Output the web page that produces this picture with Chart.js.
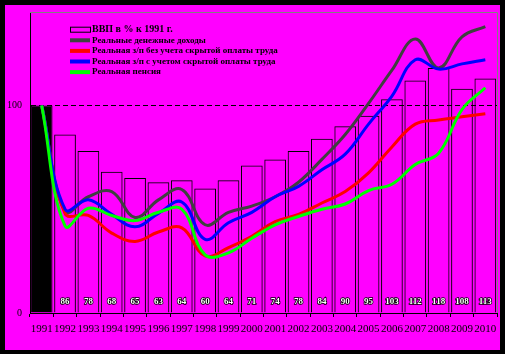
<!DOCTYPE html>
<html>
<head>
<meta charset="utf-8">
<script src="https://cdn.jsdelivr.net/npm/chart.js@4.4.0/dist/chart.umd.min.js"></script>
<style>
  html, body { margin: 0; padding: 0; background: #000; }
  #moldura { position: absolute; left: 5px; top: 5px; width: 495px; height: 345px; background: #ff00ff; }
  canvas { display: block; }
</style>
</head>
<body>
<div id="moldura"><canvas id="grafico" width="495" height="345"></canvas></div>
<script>
/* ---------- Dados ---------- */
const anos = ['1991','1992','1993','1994','1995','1996','1997','1998','1999','2000',
              '2001','2002','2003','2004','2005','2006','2007','2008','2009','2010'];
const vvp = [100, 86, 78, 68, 65, 63, 64, 60, 64, 71, 74, 78, 84, 90, 95, 103, 112, 118, 108, 113];
const dohody = [100, 49, 56, 58.5, 46, 54.5, 59.5, 42.5, 48.5, 51.5, 56, 63, 74, 86, 101, 117, 132, 118, 133, 138];
const zpBez = [100, 48, 47, 38.5, 34.5, 39, 41, 27.5, 31.5, 37, 44, 47.5, 53, 58.5, 67.5, 80, 91, 93, 94.5, 96];
const zpS = [100, 50, 54.5, 47.5, 41.5, 48, 53.5, 35.5, 43.5, 48.5, 56, 61, 69, 76.5, 91, 104.5, 122, 117.5, 120, 122];
const pensiya = [100, 42, 50.5, 47, 44.5, 48.5, 50, 28, 29, 36, 42.5, 46.5, 50, 52.5, 59, 62, 71.5, 77, 98, 108.5];
const yTicks = [0, 100];

const nomes = [
  'ВВП в % к 1991 г.',
  'Реальные денежные доходы',
  'Реальная з/п без учета скрытой оплаты труда',
  'Реальная з/п с учетом скрытой оплаты труда',
  'Реальная пенсия'
];
const cores = ['#000000', '#404040', '#ff0000', '#0000ff', '#00ff00'];
const fonte = '"Liberation Serif", "Times New Roman", serif';

/* ---------- Plugins ---------- */
// rótulos dos valores do ВВП no pé das barras
const rotulosBarras = {
  id: 'rotulosBarras',
  afterDatasetsDraw(chart) {
    const ctx = chart.ctx;
    const meta = chart.getDatasetMeta(0);
    const y = chart.scales.y.getPixelForValue(5.3);
    ctx.save();
    ctx.font = 'bold 9px ' + fonte;
    ctx.textAlign = 'center';
    ctx.textBaseline = 'middle';
    meta.data.forEach((bar, i) => {
      if (i === 0) return;
      ctx.lineWidth = 1.5;
      ctx.strokeStyle = '#000';
      ctx.strokeText(String(vvp[i]), bar.x, y);
      ctx.fillStyle = '#fff';
      ctx.fillText(String(vvp[i]), bar.x, y);
    });
    ctx.restore();
  }
};

// moldura cinza (topo e direita) + legenda
const molduraLegenda = {
  id: 'molduraLegenda',
  afterDraw(chart) {
    const ctx = chart.ctx;
    const a = chart.chartArea;
    ctx.save();
    ctx.strokeStyle = '#808080';
    ctx.lineWidth = 1;
    ctx.beginPath();
    ctx.moveTo(a.left, a.top + 0.5);
    ctx.lineTo(a.right + 0.5, a.top + 0.5);
    ctx.lineTo(a.right + 0.5, a.bottom);
    ctx.stroke();

    const x0 = a.left + 40;
    let y = a.top + 17.7;
    nomes.forEach((nome, i) => {
      if (i === 0) {
        ctx.strokeStyle = '#000';
        ctx.lineWidth = 1;
        ctx.strokeRect(x0 + 0.5, y - 2.5, 20, 5);
        ctx.font = 'bold 10px ' + fonte;
      } else {
        ctx.strokeStyle = cores[i];
        ctx.lineWidth = 4;
        ctx.beginPath();
        ctx.moveTo(x0, y);
        ctx.lineTo(x0 + 20, y);
        ctx.stroke();
        ctx.font = 'bold 9px ' + fonte;
      }
      ctx.fillStyle = '#000';
      ctx.textBaseline = 'middle';
      ctx.textAlign = 'left';
      ctx.fillText(nome, x0 + 22, y);
      y += 10.6;
    });
    ctx.restore();
  }
};

/* ---------- Gráfico ---------- */
function linha(label, data, cor, ordem) {
  return {
    type: 'line', label, data, borderColor: cor, backgroundColor: cor,
    borderWidth: 3, pointRadius: 0, tension: 0.4, fill: false, order: ordem
  };
}

const ctx = document.getElementById('grafico').getContext('2d');
new Chart(ctx, {
  type: 'bar',
  data: {
    labels: anos,
    datasets: [
      {
        label: nomes[0], data: vvp, order: 5,
        backgroundColor: vvp.map((_, i) => i === 0 ? '#000' : 'transparent'),
        borderColor: '#000', borderWidth: 1,
        barPercentage: 0.93, categoryPercentage: 1
      },
      linha(nomes[1], dohody, cores[1], 4),
      linha(nomes[2], zpBez, cores[2], 3),
      linha(nomes[3], zpS, cores[3], 2),
      linha(nomes[4], pensiya, cores[4], 1)
    ]
  },
  options: {
    responsive: false,
    animation: false,
    devicePixelRatio: 1,
    layout: { padding: { top: 7, right: 3, left: 0, bottom: 0 } },
    plugins: { legend: { display: false }, tooltip: { enabled: false } },
    scales: {
      x: {
        grid: { display: true, drawOnChartArea: false, drawTicks: true, tickLength: 4, tickColor: '#000', offset: true },
        border: { display: true, color: '#000', width: 1 },
        ticks: { color: '#000', font: { family: fonte, size: 11 }, padding: 6, autoSkip: false, maxRotation: 0 },
        afterFit(scale) { scale.height = 37; scale.paddingLeft = 0; scale.paddingRight = 0; }
      },
      y: {
        min: 0, max: 145,
        afterBuildTicks(scale) { scale.ticks = yTicks.map(v => ({ value: v })); },
        grid: {
          drawTicks: false,
          color: c => c.tick && c.tick.value === 100 ? '#000' : 'transparent',
          lineWidth: 1
        },
        border: { display: true, color: '#000', width: 1, dash: [5, 3] },
        ticks: { color: '#000', font: { family: fonte, size: 10 }, padding: 8 },
        afterFit(scale) { scale.width = 25; scale.paddingTop = 0; scale.paddingBottom = 0; }
      }
    }
  },
  plugins: [rotulosBarras, molduraLegenda]
});
</script>
</body>
</html>
